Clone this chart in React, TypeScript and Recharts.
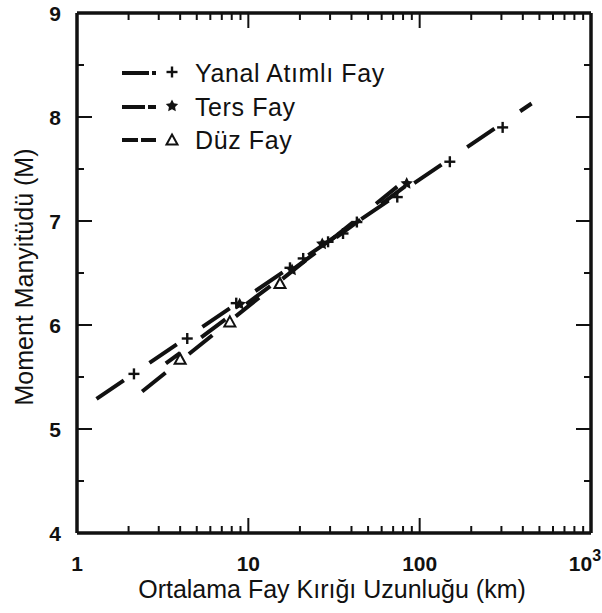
import {
  ComposedChart,
  Line,
  ReferenceLine,
  Scatter,
  XAxis,
  YAxis,
} from "recharts";

// regression line end points (length km, magnitude)
const STRIKE_LINE_L = [1.3, 450];
const STRIKE_LINE_M = [5.29, 8.13];
const REVERSE_LINE_L = [3.3, 85];
const REVERSE_LINE_M = [5.63, 7.35];
const NORMAL_LINE_L = [2.4, 74];
const NORMAL_LINE_M = [5.36, 7.33];

// plotted events
const STRIKE_L = [2.15, 4.4, 8.5, 17.5, 20.9, 29.2, 35.7, 43, 74, 150, 305];
const STRIKE_M = [5.53, 5.87, 6.21, 6.55, 6.64, 6.8, 6.88, 6.99, 7.23, 7.57, 7.9];
const REVERSE_L = [8.9, 18, 27, 84];
const REVERSE_M = [6.2, 6.53, 6.78, 7.36];
const NORMAL_L = [4.0, 7.8, 15.3];
const NORMAL_M = [5.67, 6.03, 6.4];

const X_TICKS = [
  1, 2, 3, 4, 5, 6, 7, 8, 9, 10, 20, 30, 40, 50, 60, 70, 80, 90, 100, 200,
  300, 400, 500, 600, 700, 800, 900, 1000,
];
const X_LABELS: Record<number, string> = { 1: "1", 10: "10", 100: "100" };
const Y_TICKS = [4, 4.5, 5, 5.5, 6, 6.5, 7, 7.5, 8, 8.5, 9];

const W = 602;
const H = 613;
const LEFT = 77;
const RIGHT = 591;
const TOP = 13;
const BOTTOM = 533;
const Y_AXIS_W = 60;
const X_AXIS_H = 60;
const FONT = "'Liberation Sans', Arial, Helvetica, sans-serif";
const INK = "#111";

const zip = (ls: number[], ms: number[]) => ls.map((l, i) => ({ l, m: ms[i] }));

const strikeLine = zip(STRIKE_LINE_L, STRIKE_LINE_M);
const reverseLine = zip(REVERSE_LINE_L, REVERSE_LINE_M);
const normalLine = zip(NORMAL_LINE_L, NORMAL_LINE_M);
const strikePts = zip(STRIKE_L, STRIKE_M);
const reversePts = zip(REVERSE_L, REVERSE_M);
const normalPts = zip(NORMAL_L, NORMAL_M);

function Plus({ cx, cy }: any) {
  return (
    <g stroke={INK} strokeWidth={2.4}>
      <line x1={cx - 5.5} x2={cx + 5.5} y1={cy} y2={cy} />
      <line x1={cx} x2={cx} y1={cy - 5.5} y2={cy + 5.5} />
    </g>
  );
}

function starPath(cx: number, cy: number, r: number) {
  const pts: string[] = [];
  for (let i = 0; i < 10; i++) {
    const rr = i % 2 === 0 ? r : r * 0.5;
    const a = -Math.PI / 2 + (i * Math.PI) / 5;
    pts.push(`${cx + rr * Math.cos(a)},${cy + rr * Math.sin(a)}`);
  }
  return `M${pts.join("L")}Z`;
}

function Star({ cx, cy }: any) {
  return <path d={starPath(cx, cy, 6.5)} fill={INK} />;
}

function Triangle({ cx, cy }: any) {
  return (
    <path
      d={`M${cx},${cy - 5.5}L${cx + 5.5},${cy + 4.5}L${cx - 5.5},${cy + 4.5}Z`}
      fill="none"
      stroke={INK}
      strokeWidth={2}
    />
  );
}

function XTick({ x, payload }: any) {
  const v = payload.value;
  const decade = [1, 10, 100, 1000].includes(v);
  const len = decade ? 15 : 7;
  return (
    <g>
      <line x1={x} x2={x} y1={BOTTOM} y2={BOTTOM - len} stroke={INK} strokeWidth={2} />
      <line x1={x} x2={x} y1={TOP} y2={TOP + len} stroke={INK} strokeWidth={2} />
      {X_LABELS[v] && (
        <text x={x} y={571} textAnchor="middle" fontFamily={FONT} fontSize={21} fontWeight="bold" fill={INK}>
          {X_LABELS[v]}
        </text>
      )}
      {v === 1000 && (
        <text x={x - 6} y={571} textAnchor="middle" fontFamily={FONT} fontSize={21} fontWeight="bold" fill={INK}>
          10
          <tspan dy={-10} fontSize={16}>3</tspan>
        </text>
      )}
    </g>
  );
}

function YTick({ y, payload }: any) {
  const v = payload.value;
  const major = Number.isInteger(v);
  const len = major ? 15 : 7;
  return (
    <g>
      <line x1={LEFT} x2={LEFT + len} y1={y} y2={y} stroke={INK} strokeWidth={2} />
      <line x1={RIGHT} x2={RIGHT - len} y1={y} y2={y} stroke={INK} strokeWidth={2} />
      {major && (
        <text x={61} y={y} dy="0.36em" textAnchor="end" fontFamily={FONT} fontSize={21} fontWeight="bold" fill={INK}>
          {v}
        </text>
      )}
    </g>
  );
}

const legendRows = [
  { label: "Yanal Atımlı Fay", y: 73, dash: "27 3", marker: "plus" },
  { label: "Ters Fay", y: 107, dash: "23 3", marker: "star" },
  { label: "Düz Fay", y: 140, dash: "16 3", marker: "tri" },
];

export default function App() {
  return (
    <div style={{ position: "absolute", left: 0, top: 0, width: W, height: H, background: "#fff", fontFamily: FONT }}>
      <ComposedChart
        width={W}
        height={H}
        margin={{ top: TOP, right: W - RIGHT, bottom: H - BOTTOM - X_AXIS_H, left: LEFT - Y_AXIS_W }}
      >
        <XAxis
          dataKey="l"
          type="number"
          scale="log"
          domain={[1, 1000]}
          allowDataOverflow
          ticks={X_TICKS}
          interval={0}
          height={X_AXIS_H}
          tickLine={false}
          axisLine={{ stroke: INK, strokeWidth: 3.5 }}
          tick={<XTick />}
        />
        <YAxis
          dataKey="m"
          type="number"
          domain={[4, 9]}
          allowDataOverflow
          ticks={Y_TICKS}
          interval={0}
          width={Y_AXIS_W}
          tickLine={false}
          axisLine={{ stroke: INK, strokeWidth: 3.5 }}
          tick={<YTick />}
        />
        <ReferenceLine y={9} stroke={INK} strokeWidth={3.5} />
        <ReferenceLine x={1000} stroke={INK} strokeWidth={3.5} />
        <Line data={strikeLine} dataKey="m" type="linear" stroke={INK} strokeWidth={4} strokeDasharray="33 31" dot={false} isAnimationActive={false} />
        <Line data={reverseLine} dataKey="m" type="linear" stroke={INK} strokeWidth={4} strokeDasharray="30 26" strokeDashoffset={12} dot={false} isAnimationActive={false} />
        <Line data={normalLine} dataKey="m" type="linear" stroke={INK} strokeWidth={4} strokeDasharray="30 30" dot={false} isAnimationActive={false} />
        <Scatter data={strikePts} dataKey="m" shape={<Plus />} isAnimationActive={false} />
        <Scatter data={reversePts} dataKey="m" shape={<Star />} isAnimationActive={false} />
        <Scatter data={normalPts} dataKey="m" shape={<Triangle />} isAnimationActive={false} />
      </ComposedChart>

      <svg width={W} height={H} style={{ position: "absolute", left: 0, top: 0, pointerEvents: "none" }}>
        {legendRows.map((r) => (
          <g key={r.label}>
            <line x1={122} x2={156} y1={r.y} y2={r.y} stroke={INK} strokeWidth={4} strokeDasharray={r.dash} />
            {r.marker === "plus" && <Plus cx={172} cy={r.y - 1} />}
            {r.marker === "star" && <Star cx={172} cy={r.y - 1} />}
            {r.marker === "tri" && <Triangle cx={172} cy={r.y} />}
            <text x={195} y={r.y} dy="0.36em" fontFamily={FONT} fontSize={25} letterSpacing={0.6} fill={INK}>
              {r.label}
            </text>
          </g>
        ))}
        <text x={332} y={598} textAnchor="middle" fontFamily={FONT} fontSize={25} fill={INK}>
          Ortalama Fay Kırığı Uzunluğu (km)
        </text>
        <text
          transform="translate(33,277) rotate(-90)"
          textAnchor="middle"
          fontFamily={FONT}
          fontSize={25}
          fill={INK}
        >
          Moment Manyitüdü (M)
        </text>
      </svg>
    </div>
  );
}
